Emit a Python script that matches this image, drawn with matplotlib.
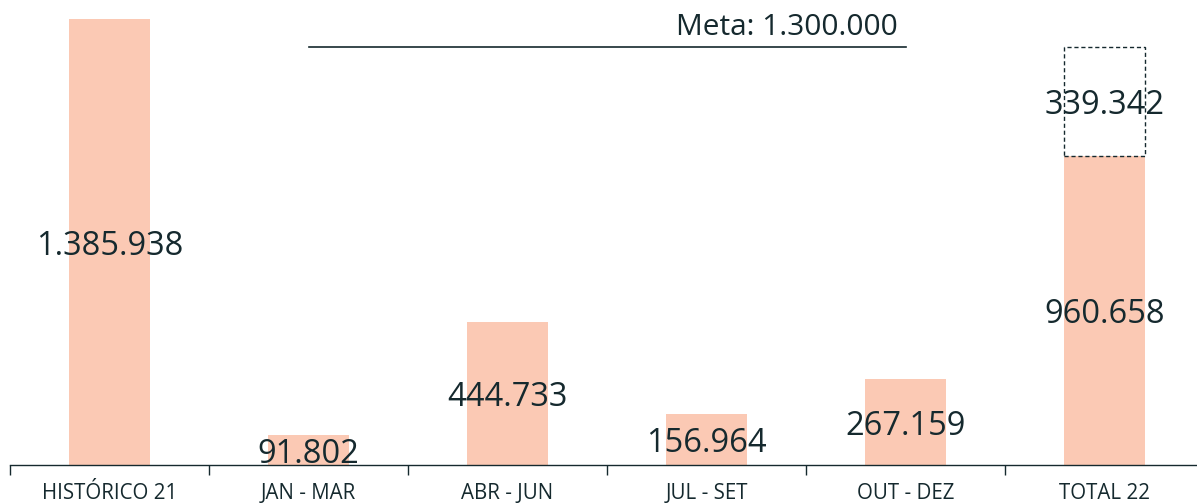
import matplotlib
matplotlib.use("Agg")
import matplotlib.pyplot as plt
from matplotlib.patches import Rectangle

categories = ["HISTÓRICO 21", "JAN - MAR", "ABR - JUN", "JUL - SET", "OUT - DEZ", "TOTAL 22"]
values = [1385938, 91802, 444733, 156964, 267159, 960658]
remaining = 339342
meta = 1300000

bar_color = "#fbc9b4"
text_color = "#15292e"


def fmt(v):
    return f"{v:,}".replace(",", ".")


plt.rcParams["font.family"] = ["Open Sans", "DejaVu Sans"]

fig = plt.figure(figsize=(11.97, 5.04), dpi=100)
ax = fig.add_axes([10 / 1197, 39 / 504, 1194 / 1197, 465 / 504])

x = list(range(len(categories)))
width = 0.41
ax.bar(x, values, width=width, color=bar_color, zorder=2)

for xi, v in zip(x, values):
    ax.text(xi, v / 2, fmt(v), ha="center", va="center_baseline", fontsize=23.5,
            color=text_color, zorder=3)

# dashed box for what is left to reach the goal
last = x[-1]
ax.add_patch(Rectangle((last - width / 2, values[-1]), width, remaining, fill=False,
                       edgecolor=text_color, linestyle=(0, (3, 2)), linewidth=1, zorder=3))
ax.text(last, values[-1] + remaining / 2, fmt(remaining), ha="center", va="center_baseline",
        fontsize=23.5, color=text_color, zorder=4)

# goal line
ax.plot([1, 4], [meta, meta], color=text_color, linewidth=1.2)
ax.text(3.96, meta + 16000, "Meta: " + fmt(meta), ha="right", va="bottom", fontsize=21.5,
        color=text_color)

ax.set_xlim(-0.5, len(categories) - 0.5)
ax.set_ylim(0, 1445000)

for s in ["top", "right", "left"]:
    ax.spines[s].set_visible(False)
ax.spines["bottom"].set_color(text_color)
ax.spines["bottom"].set_linewidth(1)

ax.set_yticks([])
ax.set_xticks(x)
ax.set_xticklabels(categories, fontsize=14.8, color=text_color)
ax.tick_params(axis="x", which="major", length=0, pad=13)
ax.set_xticks([i - 0.5 for i in x], minor=True)
ax.tick_params(axis="x", which="minor", length=7, color=text_color, width=1)

fig.savefig("out.png", dpi=100)
